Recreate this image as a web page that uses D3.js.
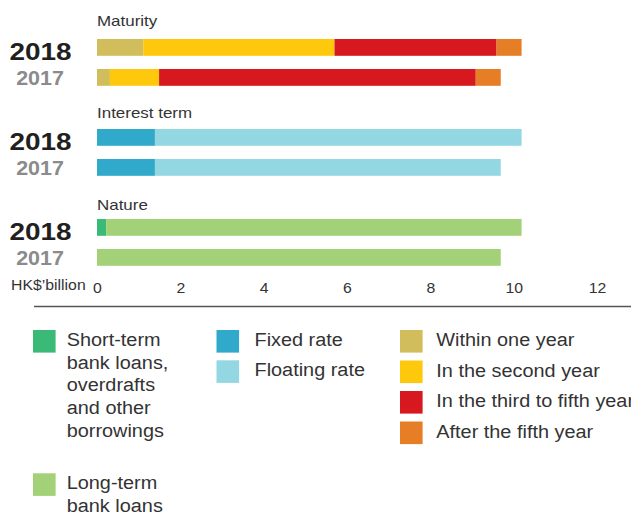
<!DOCTYPE html>
<html>
<head>
<meta charset="utf-8">
<script src="https://cdn.jsdelivr.net/npm/d3@7"></script>
<style>
  html, body { margin: 0; padding: 0; background: #fff; }
  svg { display: block; }
  text { font-family: "Liberation Sans", Arial, Helvetica, sans-serif; }
</style>
</head>
<body>
<svg id="chart" width="631" height="518"></svg>
<script>
// ---------- data ----------
const groups = ["Maturity", "Interest term", "Nature"];
const years = ["2018", "2017"];

const maturityKeys = ["Within one year", "In the second year", "In the third to fifth year", "After the fifth year"];
const maturity2018 = [1.11, 4.59, 3.89, 0.60];
const maturity2017 = [0.31, 1.18, 7.60, 0.60];

const interestKeys = ["Fixed rate", "Floating rate"];
const interest2018 = [1.39, 8.80];
const interest2017 = [1.39, 8.30];

const natureKeys = ["Short-term bank loans, overdrafts and other borrowings", "Long-term bank loans"];
const nature2018 = [0.22, 9.97];
const nature2017 = [0.00, 9.69];

const xTicks = [0, 2, 4, 6, 8, 10, 12];
const unitLabel = "HK$\u2019billion";

// ---------- styles ----------
const colors = {
  "Within one year": "#d1bd5b",
  "In the second year": "#fec90d",
  "In the third to fifth year": "#d7181f",
  "After the fifth year": "#e67e26",
  "Fixed rate": "#31a9ca",
  "Floating rate": "#93d7e3",
  "Short-term bank loans, overdrafts and other borrowings": "#3bb977",
  "Long-term bank loans": "#a3d177"
};
const SX = 1.13; // horizontal text stretch seen in the reference

const groupData = [
  { name: groups[0], keys: maturityKeys, values: { "2018": maturity2018, "2017": maturity2017 } },
  { name: groups[1], keys: interestKeys, values: { "2018": interest2018, "2017": interest2017 } },
  { name: groups[2], keys: natureKeys,   values: { "2018": nature2018,   "2017": nature2017 } }
];

const svg = d3.select("#chart");

const x = d3.scaleLinear().domain([0, 12]).range([97, 597]);
const yGroup = d3.scaleBand().domain(groups).range([39, 309]).paddingInner(0).paddingOuter(0);
const yYear = d3.scaleBand().domain(years).range([0, 46.8]).paddingInner(0.44).paddingOuter(0);

function stretchedText(sel, tx, ty, sx) {
  return sel.attr("transform", `translate(${tx},${ty}) scale(${sx},1)`);
}

// ---------- groups ----------
groupData.forEach(g => {
  const gy = yGroup(g.name);
  const gg = svg.append("g");

  // section label
  stretchedText(gg.append("text"), 97, gy - 13 + groups.indexOf(g.name) * 2, SX)
    .attr("font-size", 15).attr("fill", "#333").text(g.name);

  years.forEach(yr => {
    const vals = g.values[yr];
    const ends = d3.cumsum(vals);
    const top = gy + yYear(yr);
    const segs = vals.map((v, i) => ({ key: g.keys[i], x0: ends[i] - v, x1: ends[i] }));
    gg.selectAll(null).data(segs).join("rect")
      .attr("x", d => x(d.x0))
      .attr("y", top)
      .attr("width", d => Math.max(0, x(d.x1) - x(d.x0)))
      .attr("height", yYear.bandwidth())
      .attr("fill", d => colors[d.key]);

    // year label
    if (yr === "2018") {
      stretchedText(gg.append("text"), 40.5, top + 21, 1.14)
        .attr("text-anchor", "middle").attr("font-size", 24.5).attr("font-weight", "bold")
        .attr("fill", "#231f20").text(yr);
    } else {
      stretchedText(gg.append("text"), 40, top + 15.5, 1.1)
        .attr("text-anchor", "middle").attr("font-size", 19.5).attr("font-weight", "bold")
        .attr("fill", "#8b8b8d").text(yr);
    }
  });
});

// ---------- axis ----------
const axisG = svg.append("g").attr("transform", "translate(0,283)")
  .call(d3.axisBottom(x).tickValues(xTicks).tickSize(0).tickPadding(0).tickFormat(d3.format("d")));
axisG.select(".domain").remove();
axisG.selectAll("text")
  .attr("font-size", 14).attr("fill", "#333")
  .attr("font-family", "'Liberation Sans', Arial, sans-serif")
  .attr("transform", `scale(${SX},1)`);

stretchedText(svg.append("text"), 11, 290, SX)
  .attr("font-size", 14).attr("fill", "#333").text(unitLabel);

svg.append("line")
  .attr("x1", 34).attr("x2", 631).attr("y1", 306.5).attr("y2", 306.5)
  .attr("stroke", "#555").attr("stroke-width", 1.5);

// ---------- legend ----------
const legendItems = [
  { key: natureKeys[0], lines: ["Short-term", "bank loans,", "overdrafts", "and other", "borrowings"], x: 33, tx: 66.7, y: 330 },
  { key: natureKeys[1], lines: ["Long-term", "bank loans"], x: 33, tx: 66.7, y: 473.3 },
  { key: interestKeys[0], lines: [interestKeys[0]], x: 216.5, tx: 254.5, y: 330 },
  { key: interestKeys[1], lines: [interestKeys[1]], x: 216.5, tx: 254.5, y: 360.3 },
  { key: maturityKeys[0], lines: [maturityKeys[0]], x: 400, tx: 436.3, y: 330 },
  { key: maturityKeys[1], lines: [maturityKeys[1]], x: 400, tx: 436.3, y: 360.5 },
  { key: maturityKeys[2], lines: [maturityKeys[2]], x: 400, tx: 436.3, y: 391 },
  { key: maturityKeys[3], lines: [maturityKeys[3]], x: 400, tx: 436.3, y: 421.5 }
];

const leg = svg.append("g");
legendItems.forEach(it => {
  leg.append("rect").attr("x", it.x).attr("y", it.y).attr("width", 22.6).attr("height", 22.6)
    .attr("fill", colors[it.key]);
  it.lines.forEach((ln, i) => {
    stretchedText(leg.append("text"), it.tx, it.y + 16 + i * 22.7, SX)
      .attr("font-size", 17.6).attr("fill", "#333").text(ln);
  });
});
</script>
</body>
</html>
